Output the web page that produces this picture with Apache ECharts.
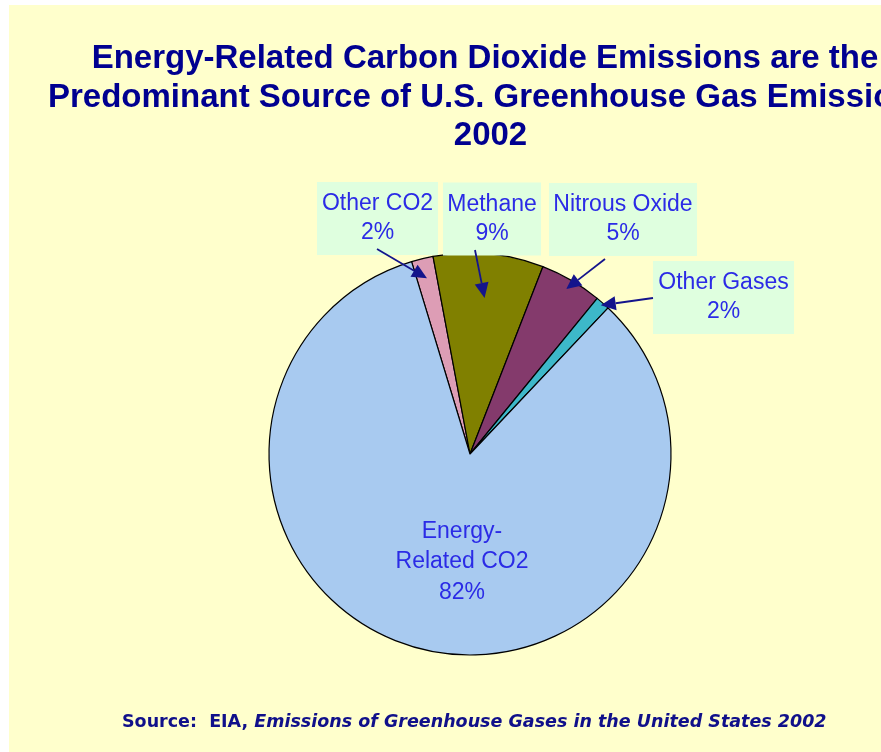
<!DOCTYPE html>
<html>
<head>
<meta charset="utf-8">
<script src="https://cdn.jsdelivr.net/npm/echarts@6/dist/echarts.min.js"></script>
<style>
html,body{margin:0;padding:0;background:#ffffff;}
#chart{width:881px;height:752px;}
</style>
</head>
<body>
<div id="chart"></div>
<script>
// ---- data ----
const categories = ['Other CO2', 'Methane', 'Nitrous Oxide', 'Other Gases', 'Energy-Related CO2'];
const values = [1.75, 8.85, 5.0, 1.15, 83.25];
const labelPercents = [2, 9, 5, 2, 82];
const titleLines = [
  'Energy-Related Carbon Dioxide Emissions are the',
  'Predominant Source of U.S. Greenhouse Gas Emissions,',
  '2002'
];
const sourcePrefix = 'Source:  EIA, ';
const sourceTitle = 'Emissions of Greenhouse Gases in the United States 2002';

// ---- presentation ----
const colors = ['#dd9db5', '#808000', '#843a6c', '#3db8c9', '#a8caf0'];
const labelFont = '"Liberation Sans", Arial, sans-serif';
const textBlue = '#2b2be6';
const navy = '#14148c';
// label box layout: [centerX, centerY, width] (energy label has no box)
const boxes = [
  [377.5, 218.5, 121],
  [492, 219, 98],
  [623, 219.5, 148],
  [723.5, 297.5, 141],
  [462, 562, 160]
];
const arrowStart = [[377, 249], [475, 250], [605, 259], [653, 298]];
const arrowDepth = [0.9, 0.78, 0.95, 0.985];

function labelText(i) {
  const name = i === 4 ? 'Energy-\nRelated CO2' : categories[i];
  return name + '\n' + labelPercents[i] + '%';
}

const chart = echarts.init(document.getElementById('chart'), null, {renderer: 'canvas'});

const pieData = categories.map((c, i) => ({
  name: c,
  value: values[i],
  itemStyle: {color: colors[i]},
  label: i === 4
    ? {backgroundColor: 'transparent', padding: 0, width: boxes[i][2], lineHeight: 30.5}
    : {width: boxes[i][2]}
}));

const titleFont = 'bold 33px "Liberation Sans", Arial, sans-serif';
const baseGraphics = [
  {type: 'rect', silent: true, z: -10, shape: {x: 9, y: 5, width: 872, height: 747}, style: {fill: '#ffffcc'}},
  {type: 'text', silent: true, style: {text: titleLines[0], x: 485, y: 58.5, align: 'center', verticalAlign: 'middle', fill: '#000090', font: titleFont}},
  {type: 'text', silent: true, style: {text: titleLines[1], x: 48, y: 97.5, align: 'left', verticalAlign: 'middle', fill: '#000090', font: titleFont}},
  {type: 'text', silent: true, style: {text: titleLines[2], x: 490.5, y: 136, align: 'center', verticalAlign: 'middle', fill: '#000090', font: titleFont}},
  {type: 'text', silent: true, style: {
    text: '{a|' + sourcePrefix + '}{b|' + sourceTitle + '}',
    x: 122, y: 722, align: 'left', verticalAlign: 'middle',
    rich: {
      a: {fill: '#10108a', font: 'bold 17.5px "DejaVu Sans", sans-serif'},
      b: {fill: '#10108a', font: 'italic bold 17.5px "DejaVu Sans", sans-serif'}
    }
  }}
];

chart.setOption({
  animation: false,
  backgroundColor: '#ffffff',
  graphic: baseGraphics,
  series: [{
    type: 'pie',
    center: [470, 454],
    radius: 201,
    startAngle: 106.9,
    clockwise: true,
    avoidLabelOverlap: false,
    itemStyle: {borderColor: '#000000', borderWidth: 1.2},
    emphasis: {disabled: true},
    label: {
      show: true,
      position: 'outside',
      formatter: p => labelText(p.dataIndex),
      fontFamily: labelFont,
      fontSize: 23,
      color: textBlue,
      lineHeight: 29,
      align: 'center',
      backgroundColor: '#dfffdf',
      padding: [13, 0, 2, 0]
    },
    labelLine: {show: false},
    labelLayout: p => ({
      x: boxes[p.dataIndex][0],
      y: boxes[p.dataIndex][1],
      align: 'center',
      verticalAlign: 'middle'
    }),
    data: pieData
  }]
});

// ---- arrows pointing from label boxes into slices (computed from the pie layout) ----
const seriesData = chart.getModel().getSeriesByIndex(0).getData();
const arrows = [];
for (let i = 0; i < 4; i++) {
  const L = seriesData.getItemLayout(i);
  const mid = (L.startAngle + L.endAngle) / 2;
  const tx = L.cx + L.r * arrowDepth[i] * Math.cos(mid);
  const ty = L.cy + L.r * arrowDepth[i] * Math.sin(mid);
  const [sx, sy] = arrowStart[i];
  const ang = Math.atan2(ty - sy, tx - sx);
  const len = 15, hw = 7;
  const bx = tx - len * Math.cos(ang), by = ty - len * Math.sin(ang);
  const nx = -Math.sin(ang), ny = Math.cos(ang);
  arrows.push({type: 'line', silent: true, z: 100,
    shape: {x1: sx, y1: sy, x2: bx, y2: by},
    style: {stroke: navy, lineWidth: 1.8}});
  arrows.push({type: 'polygon', silent: true, z: 100,
    shape: {points: [[tx, ty], [bx + nx * hw, by + ny * hw], [bx - nx * hw, by - ny * hw]]},
    style: {fill: navy}});
}
chart.setOption({graphic: baseGraphics.concat(arrows)}, {replaceMerge: ['graphic']});
</script>
</body>
</html>
